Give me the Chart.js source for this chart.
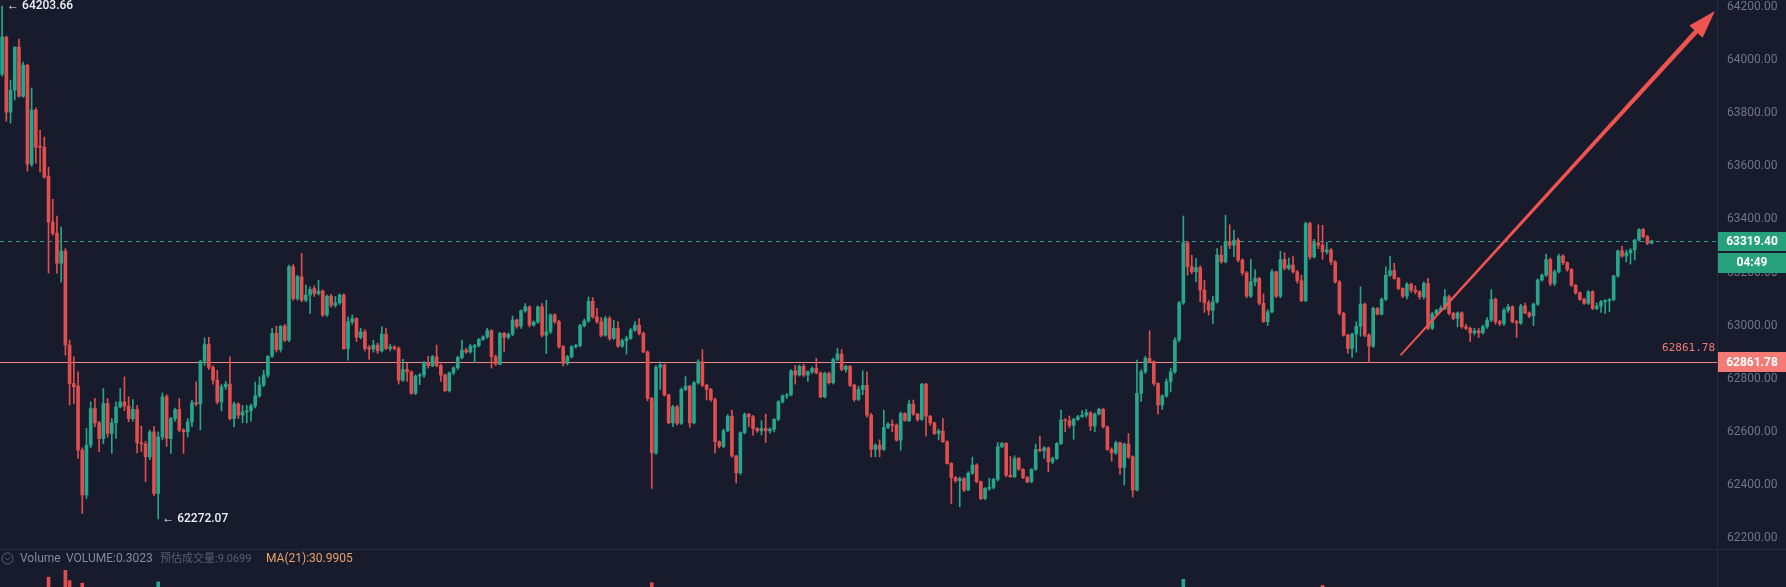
<!DOCTYPE html>
<html lang="zh">
<head>
<meta charset="UTF-8">
<title>K线</title>
<script src="https://cdn.jsdelivr.net/npm/chart.js"></script>
<style>
  html, body { margin: 0; padding: 0; background: #171b2b; }
  #wrap { position: relative; width: 1786px; height: 587px; }
</style>
</head>
<body>
<div id="wrap"><canvas id="kline"></canvas></div>
<script>
// candles, one per minute
const opens = [
  63947,64087,63804,63887,64049,63864,63981,63608,63812,63676,
  63672,63563,63390,63348,63235,63281,62927,62782,62772,62531,
  62362,62550,62688,62634,62575,62707,62594,62634,62694,62713,
  62697,62650,62684,62559,62555,62506,62600,62368,62581,62732,
  62575,62650,62684,62607,62600,62638,62710,62705,62866,62929,
  62843,62795,62713,62770,62780,62650,62705,62663,62675,62679,
  62698,62736,62776,62814,62885,62971,62910,62998,62945,63222,
  63102,63184,63096,63115,63140,63121,63130,63040,63111,63077,
  63086,63115,62914,63015,63027,62956,62977,62918,62912,62927,
  62905,62968,62914,62920,62914,62795,62835,62826,62745,62810,
  62814,62862,62849,62883,62849,62814,62755,62822,62841,62880,
  62908,62901,62918,62925,62948,62958,62981,62883,62855,62971,
  62956,62968,63021,62998,63056,63071,63002,63014,63071,62964,
  62977,63040,63015,62921,62858,62883,62921,62925,63000,63018,
  63092,63033,63015,62964,63027,62952,62990,62923,62943,62952,
  62983,63002,62971,62901,62726,62521,62843,62852,62739,62634,
  62694,62632,62760,62772,62634,62785,62864,62776,62760,62722,
  62563,62546,62604,62659,62509,62446,62597,62666,62657,62613,
  62604,62613,62604,62610,62647,62713,62735,62739,62830,62814,
  62847,62814,62826,62839,62822,62732,62820,62785,62873,62893,
  62835,62847,62776,62722,62760,62775,62663,62534,62550,62534,
  62617,62629,62625,62569,62669,62642,62705,62667,62647,62780,
  62659,62634,62594,62603,62563,62481,62428,62416,62424,62381,
  62444,62475,62412,62349,62387,62391,62421,62544,62557,62437,
  62431,62500,62459,62428,62412,62459,62534,62529,62540,62487,
  62500,62556,62644,62642,62625,62647,62657,62663,62672,62622,
  62667,62685,62619,62534,62521,62559,62466,62554,62506,62381,
  62745,62826,62877,62864,62782,62701,62735,62789,62826,62946,
  63086,63312,63222,63203,63219,63134,63086,63058,63090,63266,
  63241,63316,63303,63322,63247,63199,63111,63165,63178,63084,
  63015,63052,63203,63111,63249,63216,63228,63203,63169,63094,
  63385,63259,63312,63303,63278,63285,63240,63165,63046,62964,
  62914,62968,62998,63081,62964,62923,63065,63043,63099,63190,
  63207,63178,63140,63111,63156,63134,63128,63109,63159,62990,
  63044,63058,63065,63109,63046,63027,63048,62996,62990,62973,
  62980,62973,62996,63021,63099,63015,63008,63058,63071,63015,
  63010,63074,63048,63036,63081,63172,63190,63249,63159,63203,
  63262,63237,63212,63152,63124,63099,63084,63128,63065,63074,
  63090,63094,63098,63187,63282,63262,63274,63285,63322,63362,
  63335,63310
];
const highs = [
  64203.66,64090,63925,64050,64079,63993,63985,63895,63820,63736,
  63710,63597,63476,63413,63371,63290,62946,62883,62826,62540,
  62613,62713,62726,62640,62763,62726,62650,62713,62763,62807,
  62732,62722,62700,62622,62565,62607,62620,62600,62747,62740,
  62655,62690,62726,62612,62650,62720,62788,62870,62954,62956,
  62850,62832,62780,62790,62883,62712,62710,62700,62700,62705,
  62788,62807,62832,62886,62990,62998,63000,63005,63228,63230,
  63190,63272,63153,63146,63150,63171,63135,63115,63118,63110,
  63120,63120,63033,63040,63030,62990,62985,62925,62945,62935,
  62996,62990,62930,62925,62920,62873,62858,62830,62815,62820,
  62866,62885,62888,62927,62855,62818,62826,62845,62885,62946,
  62915,62930,62930,62952,62962,62990,62985,62890,62975,62975,
  62972,63036,63025,63060,63083,63075,63018,63075,63083,63096,
  63045,63045,63020,62925,62888,62925,62930,63005,63025,63108,
  63106,63065,63030,63035,63035,63020,63015,62950,62960,62990,
  63015,63027,62976,62905,62730,62850,62864,62856,62742,62700,
  62700,62765,62808,62776,62790,62872,62910,62780,62764,62728,
  62566,62610,62665,62682,62512,62600,62672,62670,62662,62616,
  62642,62667,62615,62650,62718,62740,62745,62835,62850,62852,
  62855,62830,62845,62877,62826,62825,62825,62878,62914,62910,
  62852,62850,62780,62772,62830,62826,62670,62555,62570,62682,
  62635,62645,62630,62675,62672,62720,62720,62670,62782,62783,
  62662,62637,62610,62650,62566,62484,62432,62430,62428,62450,
  62505,62480,62415,62390,62425,62425,62560,62560,62560,62508,
  62510,62504,62462,62432,62462,62554,62584,62545,62543,62505,
  62560,62682,62650,62660,62652,62662,62680,62685,62676,62672,
  62690,62688,62622,62540,62565,62562,62558,62594,62510,62870,
  62835,62885,62981,62868,62785,62740,62800,62840,62955,63092,
  63413,63318,63265,63253,63225,63170,63095,63110,63290,63300,
  63416,63380,63360,63330,63252,63204,63250,63210,63182,63120,
  63060,63212,63205,63280,63275,63255,63262,63208,63190,63390,
  63390,63325,63380,63378,63315,63290,63245,63170,63050,62968,
  62972,63015,63146,63085,62970,63070,63068,63105,63222,63262,
  63235,63182,63143,63162,63160,63150,63132,63165,63178,63050,
  63062,63075,63136,63115,63050,63052,63052,63005,62995,62990,
  62990,63002,63030,63136,63104,63020,63065,63080,63075,63020,
  63080,63085,63052,63085,63176,63195,63270,63255,63210,63270,
  63268,63240,63215,63155,63127,63104,63132,63132,63085,63095,
  63098,63102,63190,63285,63300,63285,63290,63325,63366,63366,
  63340,63322
];
const lows = [
  63940,63770,63763,63850,63860,63860,63582,63600,63612,63578,
  63555,63198,63340,63198,63164,62889,62701,62707,62500,62293,
  62349,62540,62620,62525,62556,62580,62519,62575,62690,62680,
  62638,62640,62521,62525,62412,62495,62360,62272.07,62570,62545,
  62519,62640,62600,62519,62581,62620,62698,62607,62850,62835,
  62780,62705,62679,62760,62645,62619,62650,62634,62634,62640,
  62690,62730,62770,62805,62880,62900,62900,62940,62940,63095,
  63096,63090,63090,63046,63110,63115,63035,63035,63070,63070,
  63080,62910,62870,63005,62940,62950,62905,62873,62900,62895,
  62900,62910,62905,62908,62780,62790,62790,62741,62740,62778,
  62805,62840,62845,62845,62790,62750,62750,62815,62835,62875,
  62895,62896,62860,62920,62944,62952,62840,62850,62852,62902,
  62950,62962,62990,62990,63050,62995,62998,63008,62958,62895,
  62970,63008,62915,62848,62852,62878,62915,62920,62995,63012,
  63028,63008,62958,62960,62945,62948,62918,62918,62893,62948,
  62978,62965,62898,62717,62387,62515,62760,62735,62630,62620,
  62625,62628,62755,62617,62630,62780,62770,62720,62715,62521,
  62540,62540,62600,62505,62408,62440,62592,62620,62588,62598,
  62588,62560,62595,62600,62642,62708,62725,62735,62780,62810,
  62808,62790,62820,62818,62728,62728,62780,62780,62868,62830,
  62825,62770,62715,62718,62740,62655,62506,62506,62506,62530,
  62612,62600,62565,62531,62640,62638,62662,62640,62643,62584,
  62625,62590,62570,62560,62478,62330,62410,62318,62375,62378,
  62440,62408,62345,62345,62380,62385,62415,62540,62430,62428,
  62428,62455,62424,62408,62408,62455,62525,62500,62450,62480,
  62496,62552,62600,62615,62572,62643,62655,62655,62605,62600,
  62664,62615,62530,62490,62515,62440,62400,62500,62355,62378,
  62715,62820,62860,62775,62667,62685,62730,62750,62820,62940,
  63080,63190,63195,63165,63090,63050,63040,63008,63085,63235,
  63236,63290,63260,63240,63190,63105,63105,63150,63078,63012,
  63000,63048,63105,63105,63210,63210,63198,63160,63090,63090,
  63250,63255,63290,63250,63270,63230,63160,63040,62960,62895,
  62880,62900,62960,62958,62861.78,62918,63040,63040,63095,63185,
  63175,63135,63105,63100,63125,63120,63100,63100,62985,62985,
  63040,63054,63060,63040,63022,62995,62990,62985,62940,62965,
  62955,62968,62990,63015,63005,63000,63000,63050,63010,62955,
  63005,63045,63030,63000,63076,63168,63185,63150,63150,63198,
  63230,63205,63148,63118,63095,63080,63080,63060,63060,63050,
  63046,63052,63094,63183,63258,63240,63232,63247,63318,63330,
  63305,63308
];
const closes = [
  64087,63804,63887,64049,63864,63981,63608,63812,63672,63672,
  63560,63390,63348,63235,63281,62927,62782,62770,62531,62362,
  62550,62688,62634,62575,62707,62594,62634,62694,62713,62697,
  62650,62684,62559,62555,62506,62600,62368,62581,62732,62575,
  62650,62684,62607,62600,62638,62710,62705,62866,62929,62843,
  62795,62713,62770,62780,62650,62705,62663,62675,62679,62698,
  62736,62776,62814,62885,62971,62910,62998,62945,63222,63102,
  63185,63096,63115,63136,63121,63130,63040,63111,63077,63086,
  63115,62914,63015,63027,62956,62977,62914,62912,62927,62905,
  62968,62914,62920,62914,62795,62835,62826,62745,62810,62814,
  62862,62849,62883,62849,62814,62755,62822,62841,62880,62908,
  62901,62923,62925,62948,62958,62981,62883,62855,62971,62956,
  62968,63021,62998,63056,63071,63002,63014,63071,62964,62977,
  63040,63015,62921,62858,62883,62921,62925,63000,63018,63092,
  63033,63015,62964,63027,62952,62990,62923,62943,62952,62983,
  63002,62971,62901,62726,62521,62843,62852,62739,62634,62694,
  62632,62760,62772,62634,62785,62864,62776,62760,62722,62563,
  62546,62604,62659,62509,62446,62597,62666,62657,62613,62604,
  62613,62604,62610,62647,62713,62735,62739,62830,62814,62847,
  62814,62826,62839,62822,62732,62820,62785,62873,62893,62835,
  62847,62776,62722,62760,62775,62663,62534,62550,62534,62617,
  62629,62625,62569,62669,62642,62705,62667,62647,62780,62659,
  62634,62594,62603,62563,62481,62428,62416,62424,62381,62444,
  62475,62412,62349,62387,62391,62421,62544,62557,62437,62431,
  62500,62459,62428,62412,62459,62534,62529,62540,62487,62500,
  62556,62644,62642,62625,62647,62657,62663,62672,62622,62667,
  62685,62619,62534,62521,62559,62466,62554,62506,62381,62745,
  62826,62877,62864,62782,62701,62735,62789,62826,62946,63086,
  63312,63222,63203,63219,63134,63086,63058,63090,63266,63241,
  63316,63303,63322,63247,63199,63111,63165,63178,63084,63015,
  63052,63203,63111,63249,63216,63228,63203,63169,63094,63385,
  63259,63312,63303,63278,63285,63240,63165,63046,62964,62914,
  62968,62998,63081,62964,62923,63065,63043,63099,63190,63207,
  63178,63140,63111,63156,63134,63128,63109,63159,62990,63044,
  63058,63065,63109,63046,63027,63048,62996,62990,62973,62980,
  62973,62996,63021,63099,63015,63008,63058,63071,63015,63010,
  63074,63048,63036,63081,63172,63190,63249,63159,63203,63262,
  63237,63212,63152,63124,63099,63084,63128,63065,63074,63090,
  63094,63098,63187,63282,63262,63274,63285,63322,63362,63335,
  63310,63319.4
];

// only the tallest volume bars poke into the visible strip at the bottom
const volIdx = [11, 15, 16, 19, 37, 154, 280, 313];
const volVal = [241, 257, 233, 227, 230, 228, 236, 222];

const yTicks = [62200, 62400, 62600, 62800, 63000, 63200, 63400, 63600, 63800, 64000, 64200];
const lastPrice = 63319.40;
const alertPrice = 62861.78;
const maxMark = [0, 64203.66];
const minMark = [37, 62272.07];
const arrowFrom = [331.5, 62889];
const arrowTo = [406, 64185];
const countdown = '04:49';
const slots = 407;   // visible minute slots incl. empty space on the right

const UP = '#26a68c';
const DOWN = '#e04e4e';
const candleColor = closes.map((c, i) => c >= opens[i] ? UP : DOWN);
const labels = Array.from({ length: slots }, (_, i) => i);

const volData = new Array(closes.length).fill(null);
volIdx.forEach((k, j) => { volData[k] = volVal[j]; });

Chart.defaults.font.family = 'Roboto, "Noto Sans CJK SC", sans-serif';

const overlay = {
  id: 'overlay',
  beforeDatasetsDraw(chart) {
    const { ctx, chartArea: a, scales: { y } } = chart;
    ctx.save();
    let py = Math.round(y.getPixelForValue(lastPrice)) + 0.5;
    ctx.lineWidth = 1;
    ctx.strokeStyle = '#2a9b8a';
    ctx.setLineDash([4, 4]);
    ctx.beginPath(); ctx.moveTo(a.left, py); ctx.lineTo(a.right, py); ctx.stroke();
    ctx.setLineDash([]);
    py = Math.round(y.getPixelForValue(alertPrice)) + 0.5;
    ctx.strokeStyle = '#f08a86';
    ctx.beginPath(); ctx.moveTo(a.left, py); ctx.lineTo(a.right, py); ctx.stroke();
    ctx.restore();
  },
  afterDraw(chart) {
    const { ctx, chartArea: a, scales: { x, y } } = chart;
    const W = chart.width;
    ctx.save();

    // pane separator + price axis border
    ctx.strokeStyle = '#262b3c';
    ctx.lineWidth = 1;
    ctx.beginPath(); ctx.moveTo(0, 549.5); ctx.lineTo(W, 549.5); ctx.stroke();
    ctx.beginPath(); ctx.moveTo(a.right + 0.5, 0); ctx.lineTo(a.right + 0.5, chart.height); ctx.stroke();

    // volume header
    ctx.strokeStyle = '#5c6173';
    ctx.beginPath(); ctx.arc(7.5, 558.5, 5.5, 0, Math.PI * 2); ctx.stroke();
    ctx.beginPath(); ctx.moveTo(5, 557.5); ctx.lineTo(7.5, 560); ctx.lineTo(10, 557.5); ctx.stroke();
    ctx.font = '12px Roboto';
    ctx.textBaseline = 'middle';
    ctx.textAlign = 'left';
    ctx.fillStyle = '#858a9b';
    ctx.fillText('Volume', 20, 559);
    ctx.fillText('VOLUME:0.3023', 66, 559);
    ctx.font = '11px Roboto, "Noto Sans CJK SC"';
    ctx.fillStyle = '#5a5f71';
    ctx.fillText('预估成交量:9.0699', 160, 559);
    ctx.font = '12px Roboto';
    ctx.fillStyle = '#e9a16a';
    ctx.fillText('MA(21):30.9905', 266, 559);

    // high / low markers
    ctx.fillStyle = '#eef0f5';
    ctx.font = '500 12px Roboto';
    ctx.fillText('← ' + maxMark[1].toFixed(2), x.getPixelForValue(maxMark[0]) + 5, y.getPixelForValue(maxMark[1]));
    ctx.fillText('← ' + minMark[1].toFixed(2), x.getPixelForValue(minMark[0]) + 4, y.getPixelForValue(minMark[1]));

    // alert price text above its line
    const ay = y.getPixelForValue(alertPrice);
    ctx.fillStyle = '#f07c77';
    ctx.font = '11px "DejaVu Sans Mono", monospace';
    ctx.textAlign = 'right';
    ctx.fillText(alertPrice.toFixed(2), a.right - 2, ay - 14);

    // drawn trend arrow
    const x0 = x.getPixelForValue(arrowFrom[0]), y0 = y.getPixelForValue(arrowFrom[1]);
    const x1 = x.getPixelForValue(arrowTo[0]), y1 = y.getPixelForValue(arrowTo[1]);
    const len = Math.hypot(x1 - x0, y1 - y0);
    const ux = (x1 - x0) / len, uy = (y1 - y0) / len;
    const nx = -uy, ny = ux;
    const head = 28, hw = 9, w0 = 0.9, w1 = 2.4;
    const bx = x1 - ux * head, by = y1 - uy * head;
    ctx.fillStyle = '#ef5350';
    ctx.beginPath();
    ctx.moveTo(x0 + nx * w0, y0 + ny * w0);
    ctx.lineTo(bx + nx * w1, by + ny * w1);
    ctx.lineTo(bx + nx * hw, by + ny * hw);
    ctx.lineTo(x1, y1);
    ctx.lineTo(bx - nx * hw, by - ny * hw);
    ctx.lineTo(bx - nx * w1, by - ny * w1);
    ctx.lineTo(x0 - nx * w0, y0 - ny * w0);
    ctx.closePath();
    ctx.fill();

    // axis price tags
    const bx0 = a.right + 1, bw = W - bx0, cx = bx0 + bw / 2;
    const ly = y.getPixelForValue(lastPrice);
    ctx.textAlign = 'center';
    ctx.font = 'bold 12px Roboto';
    ctx.fillStyle = '#26a17b';
    ctx.fillRect(bx0, Math.round(ly) - 9, bw, 19);
    ctx.fillRect(bx0, Math.round(ly) + 12, bw, 20);
    ctx.fillStyle = '#ffffff';
    ctx.fillText(lastPrice.toFixed(2), cx, Math.round(ly) + 1);
    ctx.fillText(countdown, cx, Math.round(ly) + 22);
    ctx.fillStyle = '#f47a75';
    ctx.fillRect(bx0, Math.round(ay) - 10, bw, 20);
    ctx.fillStyle = '#ffffff';
    ctx.fillText(alertPrice.toFixed(2), cx, Math.round(ay) + 0.5);

    ctx.restore();
  }
};

const ctx = document.getElementById('kline').getContext('2d');
new Chart(ctx, {
  type: 'bar',
  data: {
    labels: labels,
    datasets: [
      {
        label: 'body',
        data: opens.map((o, i) => [o, closes[i]]),
        backgroundColor: candleColor,
        barThickness: 3,
        minBarLength: 1,
        grouped: false,
        yAxisID: 'y'
      },
      {
        label: 'wick',
        data: lows.map((l, i) => [l, highs[i]]),
        backgroundColor: candleColor,
        barThickness: 1,
        grouped: false,
        yAxisID: 'y'
      },
      {
        label: 'volume',
        data: volData,
        backgroundColor: candleColor,
        barThickness: 3,
        grouped: false,
        yAxisID: 'yv'
      }
    ]
  },
  options: {
    responsive: true,
    maintainAspectRatio: false,
    animation: false,
    devicePixelRatio: 1,
    layout: { padding: 0 },
    plugins: { legend: { display: false }, tooltip: { enabled: false } },
    scales: {
      x: { display: false, offset: true },
      y: {
        position: 'right',
        min: 62015.8,
        max: 64226.4,
        afterBuildTicks: s => { s.ticks = yTicks.map(v => ({ value: v })); },
        afterFit: s => {
          s.width = 69;
          // price pane runs to the very top and bottom of the canvas
          s.paddingTop = 0;
          s.paddingBottom = 0;
        },
        grid: { display: false, drawTicks: false },
        border: { display: false },
        ticks: {
          color: '#6f7487',
          padding: 10,
          font: { size: 12, family: 'Roboto' },
          callback: v => Number(v).toFixed(2)
        }
      },
      yv: { display: false, min: 218, max: 1592 }
    }
  },
  plugins: [overlay]
});
</script>
</body>
</html>
